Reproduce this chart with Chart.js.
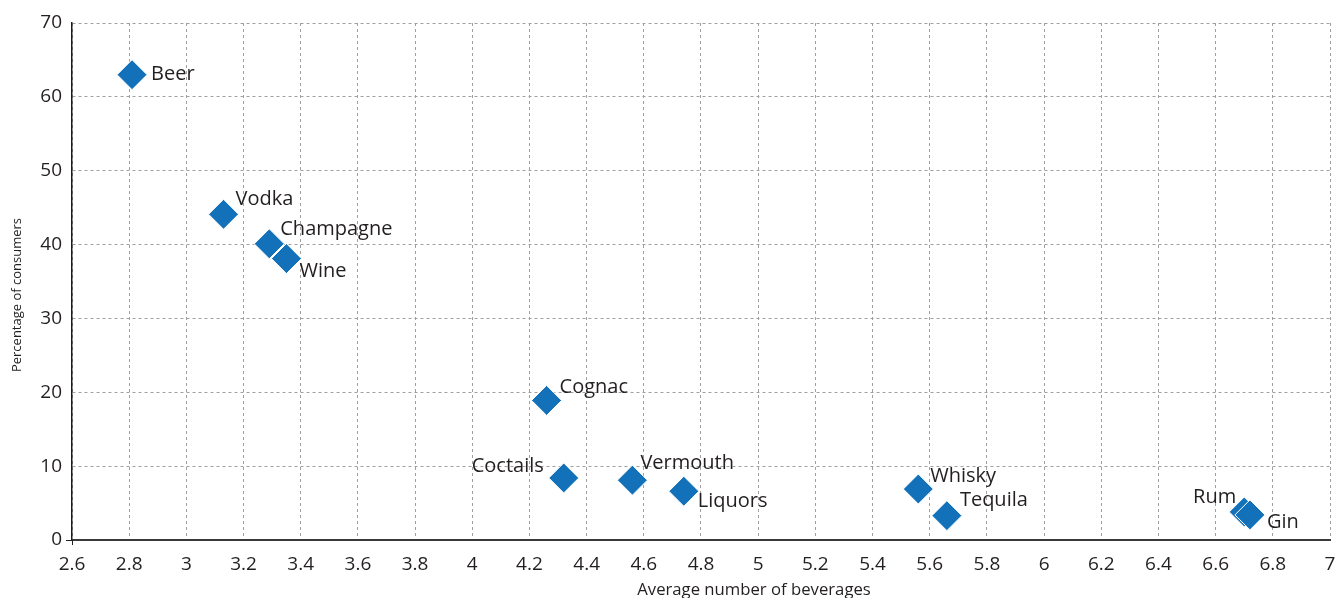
<!DOCTYPE html>
<html>
<head>
<meta charset="utf-8">
<script src="https://cdn.jsdelivr.net/npm/chart.js@4/dist/chart.umd.min.js"></script>
<style>
  html, body { margin: 0; padding: 0; background: #fff; overflow: hidden; }
  #wrap { width: 1346px; height: 598px; position: relative; }
</style>
</head>
<body>
<div id="wrap"><canvas id="scatterChart"></canvas></div>
<script>
  const beverages = ["Beer", "Vodka", "Champagne", "Wine", "Cognac", "Coctails", "Vermouth", "Liquors", "Whisky", "Tequila", "Rum", "Gin"];
  const avgBeverages = [2.81, 3.13, 3.29, 3.35, 4.26, 4.32, 4.56, 4.74, 5.56, 5.66, 6.70, 6.72];
  const pctConsumers = [63.0, 44.1, 40.1, 38.1, 18.9, 8.4, 8.1, 6.6, 6.9, 3.3, 3.8, 3.4];
  const xTicks = [2.6, 2.8, 3, 3.2, 3.4, 3.6, 3.8, 4, 4.2, 4.4, 4.6, 4.8, 5, 5.2, 5.4, 5.6, 5.8, 6, 6.2, 6.4, 6.6, 6.8, 7];
  const yTicks = [0, 10, 20, 30, 40, 50, 60, 70];
  const xTitle = "Average number of beverages";
  const yTitle = "Percentage of consumers";

  // label placement next to each marker (px offset from point, text alignment)
  const labelDx = [19, 12, 11, 13, 13, -20, 8, 14, 12, 13, -8, 17];
  const labelDy = [0, -15, -15, 13, -13, -12, -17, 10, -13, -15, -15, 7];
  const labelAlign = ["left", "left", "left", "left", "left", "right", "left", "left", "left", "left", "right", "left"];

  const FONT = "'Open Sans', 'Noto Sans', sans-serif";
  const TEXT = "#231f20";
  const BLUE = "#1271b9";

  const pointLabels = {
    id: "pointLabels",
    afterDatasetsDraw(chart) {
      const ctx = chart.ctx;
      const meta = chart.getDatasetMeta(0);
      ctx.save();
      ctx.font = "20px " + FONT;
      ctx.fillStyle = TEXT;
      ctx.textBaseline = "middle";
      meta.data.forEach((pt, i) => {
        ctx.textAlign = labelAlign[i];
        ctx.fillText(beverages[i], pt.x + labelDx[i], pt.y + labelDy[i]);
      });
      ctx.restore();
    },
  };

  // axis titles are off-centre in the original, so draw them by hand
  const axisTitles = {
    id: "axisTitles",
    afterDraw(chart) {
      const ctx = chart.ctx;
      ctx.save();
      ctx.fillStyle = TEXT;
      ctx.textAlign = "center";
      ctx.textBaseline = "middle";

      ctx.font = "16.7px " + FONT;
      ctx.fillText(xTitle, 754, 590);

      ctx.translate(17, 295);
      ctx.rotate(-Math.PI / 2);
      ctx.font = "13px " + FONT;
      ctx.fillText(yTitle, 0, 0);
      ctx.restore();
    },
  };

  const el = document.getElementById("scatterChart");
  const ctx = el.getContext("2d");
  new Chart(ctx, {
    type: "scatter",
    data: {
      datasets: [
        {
          label: "Beverages",
          data: avgBeverages.map((x, i) => ({ x, y: pctConsumers[i] })),
          pointStyle: "rectRot",
          pointRadius: 15,
          pointHoverRadius: 15,
          backgroundColor: BLUE,
          borderColor: "#ffffff",
          borderWidth: 1,
        },
      ],
    },
    options: {
      responsive: true,
      maintainAspectRatio: false,
      animation: false,
      layout: { padding: { top: 23, right: 6, left: 0, bottom: 0 } },
      plugins: {
        legend: { display: false },
        tooltip: { enabled: false },
      },
      scales: {
        x: {
          type: "linear",
          min: 2.6,
          max: 7,
          afterBuildTicks: (s) => { s.ticks = xTicks.map((v) => ({ value: v })); },
          afterFit: (s) => { s.height = 58; },
          ticks: {
            color: TEXT,
            font: { family: FONT, size: 19 },
            padding: 8,
            maxRotation: 0,
            autoSkip: false,
            callback: (v) => String(Math.round(v * 10) / 10),
          },
          grid: {
            color: "#a0a0a0",
            lineWidth: 1,
            tickLength: 5,
            tickColor: (c) => (c.tick && c.tick.value === 2.6 ? "#222" : "rgba(0,0,0,0)"),
          },
          border: { color: "#3a3a3a", width: 2, dash: [3, 3] },
        },
        y: {
          type: "linear",
          min: 0,
          max: 70,
          afterBuildTicks: (s) => { s.ticks = yTicks.map((v) => ({ value: v })); },
          afterFit: (s) => { s.width = 72; },
          ticks: {
            color: TEXT,
            font: { family: FONT, size: 19 },
            padding: 4,
          },
          grid: {
            color: "#a0a0a0",
            lineWidth: 1,
            tickLength: 6,
            tickColor: (c) => (c.tick && c.tick.value === 0 ? "#222" : "rgba(0,0,0,0)"),
          },
          border: { color: "#1a1a1a", width: 1.5, dash: [3, 3] },
        },
      },
    },
    plugins: [pointLabels, axisTitles],
  });
</script>
</body>
</html>
